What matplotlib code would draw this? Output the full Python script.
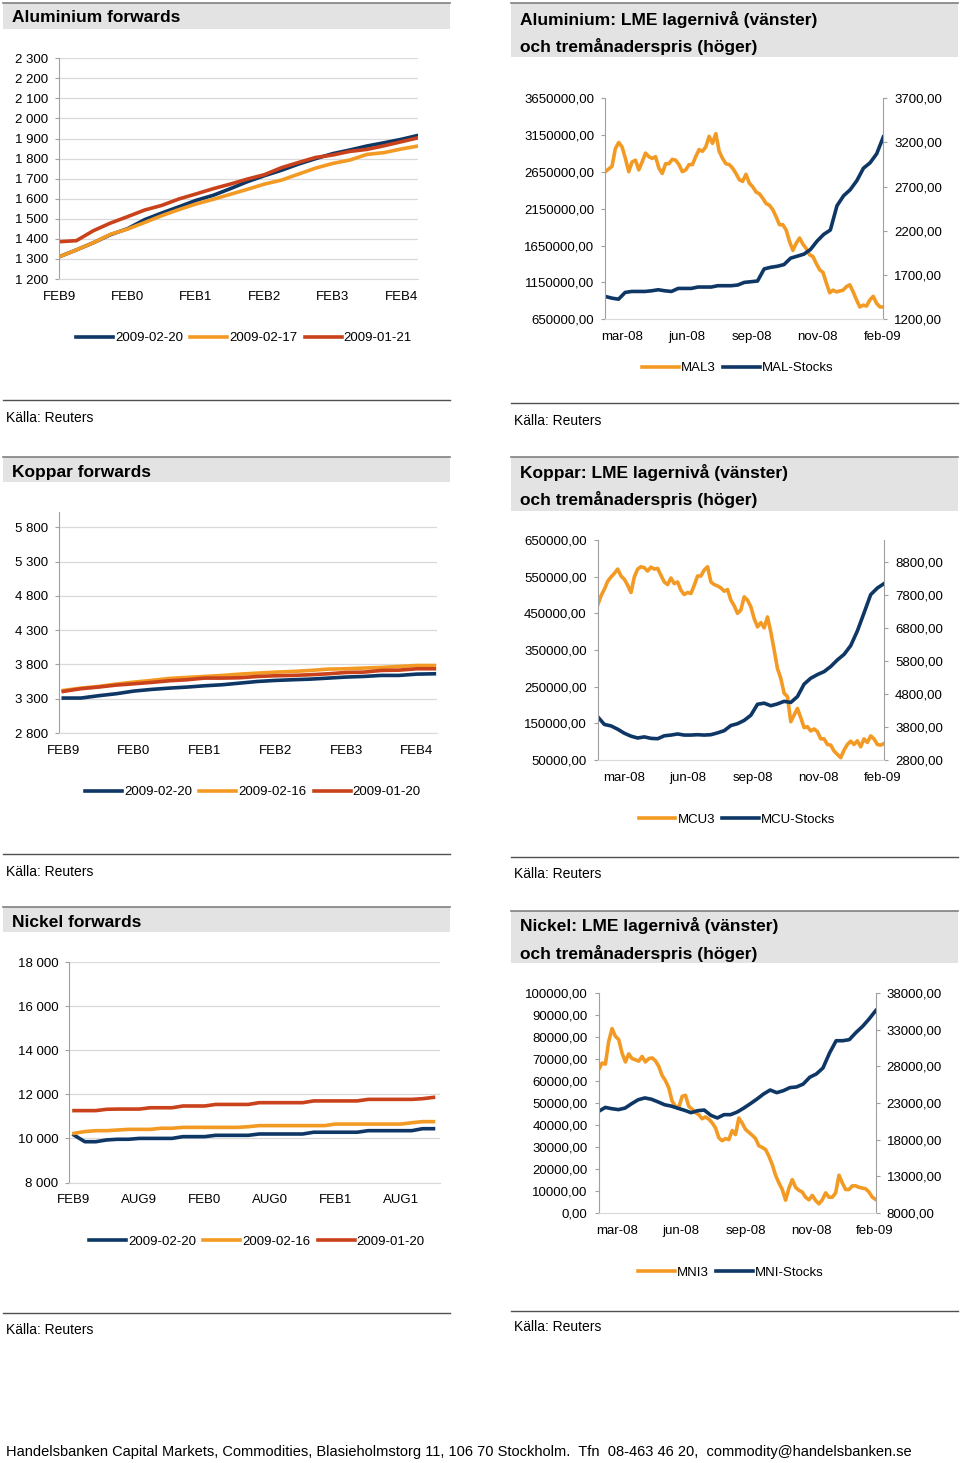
import numpy as np
import matplotlib
matplotlib.use("Agg")
import matplotlib.pyplot as plt
from matplotlib.patches import Rectangle
from matplotlib.ticker import FuncFormatter

plt.rcParams['font.family'] = ['Liberation Sans', 'DejaVu Sans']

W, H = 960, 1463

BLAA = "#0e3766"
ORANGE = "#f39a24"
ROED = "#c9421b"
LW = 2.6

# --- Forwards (månader framåt) ---
AL_FWD_MAN = [0, 3, 6, 9, 12, 15, 18, 21, 24, 27, 30, 33, 36, 39, 42, 45, 48, 51, 54, 57, 60, 63]
AL_FWD_0220 = [1311, 1345, 1381, 1421, 1451, 1496, 1529, 1560, 1592, 1617, 1650, 1685,
               1715, 1742, 1773, 1800, 1825, 1843, 1863, 1879, 1896, 1916]
AL_FWD_0217 = [1311, 1345, 1381, 1423, 1449, 1482, 1516, 1546, 1574, 1597, 1622, 1647,
               1673, 1693, 1723, 1753, 1776, 1793, 1821, 1830, 1848, 1863]
AL_FWD_0121 = [1386, 1391, 1441, 1479, 1511, 1544, 1567, 1599, 1624, 1650, 1673, 1698,
               1720, 1755, 1781, 1806, 1818, 1836, 1846, 1864, 1884, 1904]

CU_FWD_MAN = [0, 3, 6, 9, 12, 15, 18, 21, 24, 27, 30, 33, 36, 39, 42, 45, 48, 51, 54, 57, 60, 63]
CU_FWD_0220 = [3310, 3310, 3344, 3373, 3412, 3436, 3455, 3470, 3489, 3504, 3528, 3552,
               3567, 3577, 3586, 3601, 3616, 3625, 3640, 3640, 3659, 3664]
CU_FWD_0216 = [3421, 3455, 3480, 3514, 3543, 3567, 3596, 3611, 3625, 3640, 3659, 3674,
               3688, 3698, 3713, 3732, 3737, 3747, 3756, 3771, 3785, 3785]
CU_FWD_0120 = [3407, 3446, 3470, 3499, 3518, 3538, 3562, 3577, 3601, 3601, 3606, 3625,
               3635, 3640, 3650, 3664, 3683, 3688, 3713, 3717, 3737, 3737]

NI_FWD_MAN = [0, 1, 2, 3, 4, 5, 6, 7, 8, 9, 10, 11, 12, 13, 14, 15, 16, 17, 18, 19, 20,
              21, 22, 23, 24, 25, 26, 27, 28, 29, 30, 31, 32, 33]
NI_FWD_0220 = [10150, 9850, 9850, 9930, 9960, 9960, 10000, 10000, 10000, 10000, 10080, 10080,
               10080, 10140, 10140, 10140, 10140, 10200, 10200, 10200, 10200, 10200, 10280,
               10280, 10280, 10280, 10280, 10350, 10350, 10350, 10350, 10350, 10440, 10440]
NI_FWD_0216 = [10230, 10310, 10350, 10350, 10380, 10410, 10410, 10410, 10460, 10460, 10500,
               10500, 10500, 10500, 10500, 10500, 10530, 10580, 10580, 10580, 10580, 10580,
               10580, 10580, 10650, 10650, 10650, 10650, 10650, 10650, 10650, 10710, 10760, 10760]
NI_FWD_0120 = [11260, 11260, 11260, 11320, 11330, 11330, 11330, 11390, 11390, 11390, 11470,
               11470, 11470, 11540, 11540, 11540, 11540, 11620, 11620, 11620, 11620, 11620,
               11700, 11700, 11700, 11700, 11700, 11770, 11770, 11770, 11770, 11770, 11800, 11860]

FWD_XLABELS = ["FEB9", "FEB0", "FEB1", "FEB2", "FEB3", "FEB4"]
FWD_XTICKS = [0, 12, 24, 36, 48, 60]
NI_XLABELS = ["FEB9", "AUG9", "FEB0", "AUG0", "FEB1", "AUG1"]
NI_XTICKS = [0, 6, 12, 18, 24, 30]

# --- LME lager (vänster) och tremånaderspris (höger), mar-08 .. feb-09 ---
AL_LAGER = [960000, 937000, 923000, 1015000, 1028000, 1028000, 1028000, 1037000, 1051000,
            1037000, 1028000, 1069000, 1069000, 1069000, 1088000, 1088000, 1088000, 1106000,
            1106000, 1106000, 1115000, 1151000, 1160000, 1170000, 1334000, 1356000, 1370000,
            1393000, 1480000, 1507000, 1534000, 1598000, 1712000, 1803000, 1862000, 2191000,
            2327000, 2409000, 2532000, 2701000, 2774000, 2897000, 3125000]
AL_PRIS = [2870, 2900, 2930, 3130, 3200, 3150, 3020, 2870, 2980, 3000,
           2890, 2980, 3080, 3040, 3020, 3040, 2910, 2850, 2960, 2960,
           3010, 3000, 2950, 2870, 2890, 2950, 2950, 3040, 3120, 3100,
           3150, 3270, 3190, 3300, 3100, 3020, 2960, 2950, 2910, 2850,
           2780, 2760, 2840, 2740, 2700, 2640, 2620, 2570, 2510, 2490,
           2440, 2360, 2270, 2270, 2210, 2080, 1980, 2060, 2120, 2050,
           2000, 1930, 1910, 1830, 1760, 1730, 1610, 1500, 1530, 1510,
           1520, 1530, 1570, 1590, 1510, 1420, 1340, 1360, 1350, 1420,
           1460, 1380, 1340, 1340]

CU_LAGER = [168000, 147000, 143000, 134000, 123000, 115000, 110000, 113000, 109000, 108000,
            116000, 118000, 121000, 118000, 118000, 119000, 118000, 119000, 124000, 130000,
            144000, 149000, 158000, 172000, 202000, 205000, 198000, 203000, 210000, 207000,
            223000, 257000, 273000, 283000, 291000, 305000, 323000, 338000, 362000, 402000,
            451000, 501000, 519000, 531000]
CU_PRIS = [7490, 7770, 7970, 8210, 8340, 8450, 8580, 8370, 8270, 8090,
           7870, 8340, 8580, 8650, 8620, 8520, 8640, 8580, 8600, 8390,
           8190, 8110, 8310, 8140, 8190, 7940, 7810, 7870, 7840, 8090,
           8370, 8370, 8550, 8650, 8190, 8110, 8070, 8010, 7910, 7960,
           7640, 7470, 7240, 7340, 7740, 7640, 7440, 7080, 6830, 6960,
           6800, 7130, 6680, 6130, 5570, 5270, 4820, 4720, 3960, 4160,
           4360, 4080, 3780, 3810, 3680, 3740, 3660, 3440, 3440, 3270,
           3250, 3070, 2970, 2870, 3100, 3270, 3370, 3270, 3380, 3200,
           3440, 3330, 3530, 3440, 3270, 3250, 3300]

NI_LAGER = [46200, 48000, 47400, 47000, 47700, 49700, 51500, 52300, 51700, 50500,
            49200, 48600, 47600, 46700, 45600, 46500, 46800, 44400, 43200, 44700,
            44700, 45900, 47700, 49700, 51800, 54100, 55900, 54700, 55600, 57000,
            57300, 58600, 61700, 63200, 65900, 72700, 78300, 78300, 78800, 82000,
            84800, 88200, 92000]
NI_PRIS = [27550, 28450, 28300, 31400, 33150, 32100, 31650, 29800, 28600, 29700,
           29050, 28900, 28700, 29350, 28600, 29050, 29150, 28750, 28000, 26750,
           26050, 25050, 23250, 22550, 22400, 23900, 24050, 22550, 22150, 21700,
           21400, 20850, 21100, 20800, 20300, 19600, 18250, 17850, 18150, 18000,
           19250, 18700, 20950, 20250, 19400, 19000, 18600, 18150, 17150, 16950,
           16650, 15750, 14600, 13150, 12100, 11200, 9750, 11400, 12550, 11500,
           11100, 10850, 10150, 9800, 10400, 9700, 9250, 9800, 10750, 10150,
           10150, 10750, 13150, 12100, 11200, 11200, 11700, 11700, 11500, 11400,
           11300, 10850, 10150, 9850]

LAGER_XLABELS = ["mar-08", "jun-08", "sep-08", "nov-08", "feb-09"]

fig = plt.figure(figsize=(9.6, 14.63), dpi=100)

bg = fig.add_axes([0, 0, 1, 1])
bg.set_xlim(0, W)
bg.set_ylim(H, 0)
bg.axis("off")


def rect(x0, y0, x1, y1):
    return [x0 / W, 1 - y1 / H, (x1 - x0) / W, (y1 - y0) / H]


def ram(x0, x1, top, band_bot, bot, titel_rader, kalla_y):
    bg.add_patch(Rectangle((x0, top), x1 - x0, band_bot - top, color="#e3e3e3", lw=0))
    bg.plot([x0, x1], [top, top], color="#808080", lw=1.2)
    bg.plot([x0, x1], [bot, bot], color="#505050", lw=1.0)
    for ty, txt in titel_rader:
        bg.text(x0 + 8.5, ty, txt, fontsize=12.5, fontweight="bold", va="center", ha="left")
    bg.text(x0 + 3, kalla_y, "Källa: Reuters", fontsize=10, va="center", ha="left")


def legend(handles, cx, cy):
    fig.legend(handles=handles, loc="center", bbox_to_anchor=(cx / W, 1 - cy / H), ncol=3,
               frameon=False, fontsize=9.5, handlelength=2.8, handletextpad=0.15,
               columnspacing=0.55, borderpad=0, borderaxespad=0)


def forward_panel(box, man, serier, etiketter, xlim, ylim, yticks, xticks, xlabels, leg):
    ax = fig.add_axes(rect(*box))
    ax.patch.set_alpha(0)
    linjer = []
    for y, farg, e in zip(serier, [BLAA, ORANGE, ROED], etiketter):
        l, = ax.plot(man, y, color=farg, lw=LW, label=e)
        linjer.append(l)
    ax.set_xlim(*xlim)
    ax.set_ylim(*ylim)
    ax.set_yticks(yticks)
    ax.yaxis.set_major_formatter(FuncFormatter(lambda v, p: f"{v:,.0f}".replace(",", " ")))
    ax.set_xticks(xticks)
    ax.set_xticklabels(xlabels)
    ax.grid(axis="y", color="#d9d9d9", lw=0.9)
    ax.set_axisbelow(True)
    for s in ("top", "right"):
        ax.spines[s].set_visible(False)
    ax.spines["left"].set_color("#a0a0a0")
    ax.spines["bottom"].set_color("#d9d9d9")
    ax.tick_params(axis="y", length=3, width=0.8, color="#a0a0a0", pad=5, labelsize=9.5)
    ax.tick_params(axis="x", length=0, pad=8.5, labelsize=9.5)
    legend(linjer, *leg)


def lager_panel(box, lager, pris, namn, ylim_v, yticks_v, ylim_h, yticks_h, xpos, leg):
    ax = fig.add_axes(rect(*box))
    ax2 = ax.twinx()
    l_pris, = ax2.plot(np.linspace(0, 1, len(pris)), pris, color=ORANGE, lw=LW, label=namn)
    l_lager, = ax.plot(np.linspace(0, 1, len(lager)), lager, color=BLAA, lw=LW,
                       label=namn[:-1] + "-Stocks")
    ax.set_zorder(ax2.get_zorder() + 1)
    ax.patch.set_visible(False)
    ax.set_xlim(0, 1)
    ax.set_ylim(*ylim_v)
    ax.set_yticks(yticks_v)
    ax2.set_ylim(*ylim_h)
    ax2.set_yticks(yticks_h)
    fmt = FuncFormatter(lambda v, p: f"{v:.2f}".replace(".", ","))
    ax.yaxis.set_major_formatter(fmt)
    ax2.yaxis.set_major_formatter(fmt)
    ax.set_xticks(xpos)
    ax.set_xticklabels(LAGER_XLABELS)
    for s in ("top", "right"):
        ax.spines[s].set_visible(False)
    for s in ("top", "left", "bottom"):
        ax2.spines[s].set_visible(False)
    ax.spines["left"].set_color("#a0a0a0")
    ax.spines["bottom"].set_color("#d9d9d9")
    ax2.spines["right"].set_color("#a0a0a0")
    ax.tick_params(axis="y", length=3, width=0.8, color="#a0a0a0", pad=5, labelsize=9.5)
    ax2.tick_params(axis="y", length=3, width=0.8, color="#a0a0a0", pad=5, labelsize=9.5)
    ax.tick_params(axis="x", length=0, pad=8.5, labelsize=9.5)
    legend([l_pris, l_lager], *leg)


# Aluminium
ram(3, 450, 3.3, 29.3, 400, [(18, "Aluminium forwards")], 417.7)
forward_panel((59.3, 58.3, 418.3, 279), AL_FWD_MAN, [AL_FWD_0220, AL_FWD_0217, AL_FWD_0121],
              ["2009-02-20", "2009-02-17", "2009-01-21"], (0, 63), (1200, 2300),
              np.arange(1200, 2301, 100), FWD_XTICKS, FWD_XLABELS, (244, 338))

ram(511, 958, 3.3, 56.7, 402.7,
    [(19.3, "Aluminium: LME lagernivå (vänster)"), (46.7, "och tremånaderspris (höger)")], 421)
lager_panel((605.3, 98.3, 883.3, 319.3), AL_LAGER, AL_PRIS, "MAL3",
            (650000, 3650000), np.arange(650000, 3650001, 500000),
            (1200, 3700), np.arange(1200, 3701, 500),
            [0.059, 0.295, 0.527, 0.763, 0.998], (738, 368))

# Koppar
ram(3, 450, 456.7, 482.3, 854, [(472.3, "Koppar forwards")], 871.7)
forward_panel((59.3, 512.3, 436.7, 733), CU_FWD_MAN, [CU_FWD_0220, CU_FWD_0216, CU_FWD_0120],
              ["2009-02-20", "2009-02-16", "2009-01-20"], (-0.68, 63.4), (2800, 6020),
              np.arange(2800, 5801, 500), FWD_XTICKS, FWD_XLABELS, (253, 792))

ram(511, 958, 456.7, 510.7, 856.7,
    [(472.7, "Koppar: LME lagernivå (vänster)"), (500, "och tremånaderspris (höger)")], 874)
lager_panel((597.7, 540, 884, 760), CU_LAGER, CU_PRIS, "MCU3",
            (50000, 650000), np.arange(50000, 650001, 100000),
            (2800, 9460), np.arange(2800, 8801, 1000),
            [0.092, 0.315, 0.543, 0.770, 0.996], (737, 820))

# Nickel
ram(3, 450, 906.7, 932.3, 1312.7, [(922.3, "Nickel forwards")], 1330)
forward_panel((69.3, 962, 440, 1182.5), NI_FWD_MAN, [NI_FWD_0220, NI_FWD_0216, NI_FWD_0120],
              ["2009-02-20", "2009-02-16", "2009-01-20"], (-0.43, 33.6), (8000, 18000),
              np.arange(8000, 18001, 2000), NI_XTICKS, NI_XLABELS, (257, 1242))

ram(511, 958, 911, 963.3, 1310.7,
    [(926, "Nickel: LME lagernivå (vänster)"), (953.3, "och tremånaderspris (höger)")], 1327.3)
lager_panel((598.7, 993, 875.7, 1213), NI_LAGER, NI_PRIS, "MNI3",
            (0, 100000), np.arange(0, 100001, 10000),
            (8000, 38000), np.arange(8000, 38001, 5000),
            [0.065, 0.296, 0.531, 0.767, 0.996], (731, 1273))

bg.text(6, 1452, "Handelsbanken Capital Markets, Commodities, Blasieholmstorg 11, 106 70 Stockholm.  "
        "Tfn  08-463 46 20,  commodity@handelsbanken.se", fontsize=10.56, va="center", ha="left")

fig.savefig("out.png", dpi=100)
